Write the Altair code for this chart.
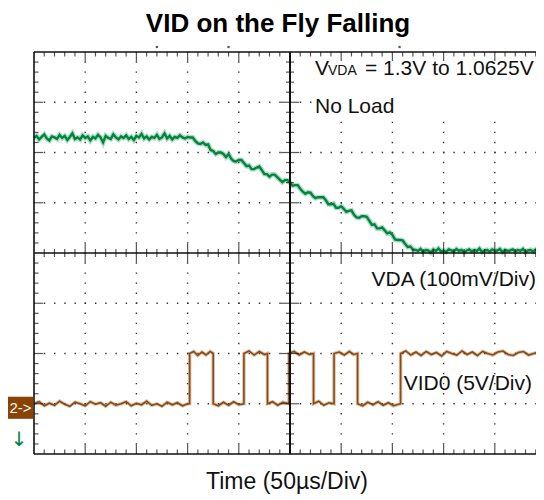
import altair as alt
import pandas as pd
import numpy as np

# ---------------- data ----------------
# VDA trace (green): sample times in µs (50 µs/div), values in divisions (100 mV/div)
vda_t = [i * 2.5 for i in range(201)]
vda_flat_start = [2.29, 2.33, 2.26, 2.31, 2.36, 2.28, 2.24, 2.32, 2.30, 2.27,
                  2.35, 2.29, 2.33, 2.25, 2.31, 2.38, 2.27, 2.30, 2.26, 2.34,
                  2.29, 2.32, 2.24, 2.31, 2.28, 2.35, 2.30, 2.20, 2.33, 2.29,
                  2.27, 2.36, 2.30, 2.26, 2.32, 2.29, 2.34, 2.27, 2.31, 2.25,
                  2.33, 2.30, 2.37, 2.28, 2.32, 2.26, 2.31, 2.29, 2.35, 2.27,
                  2.30, 2.38, 2.28, 2.33, 2.26, 2.31, 2.29, 2.34, 2.30, 2.28,
                  2.31]
vda_ramp = [2.30, 2.30, 2.23, 2.18, 2.17, 2.20, 2.15, 2.16, 2.05, 2.03,
            1.97, 2.00, 2.00, 1.97, 1.91, 1.97, 1.88, 1.83, 1.82, 1.85,
            1.85, 1.79, 1.73, 1.74, 1.67, 1.67, 1.70, 1.72, 1.65, 1.57,
            1.57, 1.52, 1.56, 1.56, 1.51, 1.46, 1.41, 1.45, 1.45, 1.40,
            1.34, 1.35, 1.35, 1.28, 1.22, 1.18, 1.21, 1.20, 1.13, 1.09,
            1.11, 1.11, 1.11, 1.05, 0.97, 0.97, 0.98, 0.90, 0.90, 0.93,
            0.88, 0.82, 0.84, 0.85, 0.76, 0.71, 0.70, 0.73, 0.73, 0.72,
            0.64, 0.56, 0.57, 0.49, 0.49, 0.51, 0.45, 0.39, 0.41, 0.36,
            0.27, 0.26, 0.26, 0.25, 0.18, 0.12, 0.13, 0.07, 0.06]
vda_flat_end = [0.04, 0.08, 0.02, 0.06, 0.05, 0.01, 0.07, 0.04, 0.09, 0.03,
                0.05, 0.02, 0.07, 0.05, 0.03, 0.08, 0.04, 0.06, 0.01, 0.05,
                0.07, 0.03, 0.06, 0.04, 0.09, 0.02, 0.05, 0.06, 0.03, 0.07,
                0.04, 0.05, 0.08, 0.02, 0.06, 0.04, 0.05, 0.07, 0.03, 0.06,
                0.04, 0.08, 0.02, 0.05, 0.06, 0.03, 0.07, 0.04, 0.05, 0.06,
                0.04]
vda_v = vda_flat_start + vda_ramp + vda_flat_end

# VID0 trace (brown), value in divisions (5 V/div)
vid_t = [0, 5, 10, 15, 20, 25, 30, 35, 40, 45, 50, 55, 60, 65, 70, 75, 80, 85, 90, 95, 100, 105, 110,
         115, 120, 125, 130, 135, 140, 145, 150, 152,
         152, 156, 160, 164, 168, 172, 175,
         175, 180, 185, 190, 195, 200, 205,
         205, 210, 215, 220, 225, 228,
         228, 233, 238, 243, 249,
         249, 254, 259, 264, 269, 273,
         273, 278, 283, 288, 293,
         293, 298, 303, 308, 312, 316,
         316, 321, 326, 331, 336, 341, 346, 351, 358,
         358, 363, 368, 373, 378, 383, 388, 393, 398, 403, 408, 413, 418, 423, 428, 433, 438, 443,
         448, 453, 458, 463, 468, 473, 478, 483, 488, 493, 498, 500]
vid_v = [-3.00, -2.96, -3.04, -2.99, -3.03, -2.95, -3.01, -3.05, -2.97, -3.00, -3.04, -2.96, -3.01,
         -2.98, -3.05, -2.97, -3.03, -3.00, -2.96, -3.04, -2.99, -3.02, -2.95, -3.03, -3.00, -3.05,
         -2.97, -3.02, -2.98, -3.04, -3.00, -3.00,
         -2.00, -1.96, -2.04, -1.97, -2.03, -1.96, -2.00,
         -3.00, -3.04, -2.97, -3.03, -2.96, -3.02, -3.00,
         -2.00, -1.95, -2.03, -1.96, -2.02, -2.00,
         -3.00, -2.96, -3.03, -2.97, -3.00,
         -2.00, -1.96, -2.03, -1.97, -2.02, -2.00,
         -3.00, -2.95, -3.03, -2.98, -3.00,
         -2.00, -1.97, -2.03, -1.96, -2.02, -2.00,
         -3.00, -3.04, -2.97, -3.02, -2.96, -3.03, -2.98, -3.04, -3.00,
         -2.00, -1.95, -2.03, -1.97, -2.04, -1.96, -2.02, -1.98, -2.05, -1.96, -2.00, -2.03, -1.95,
         -2.02, -1.97, -2.04, -1.96, -2.00, -2.03, -1.97, -1.95, -2.02, -2.04, -1.98, -1.96, -2.03,
         -2.00, -1.97, -2.02, -1.98]

marker_t = [120, 190, 357]   # small scope markers above the graticule

title_text = "VID on the Fly Falling"
xtitle_text = "Time  (50µs/Div)"

# ---------------- structure ----------------
FONT = "Liberation Sans"
GREEN = "#00853F"
BROWN = "#8C4A10"
INK = "#111111"

XMAX = 502 / 51.2 * 50   # visible part of the 10-division graticule
xs = alt.Scale(domain=[0, XMAX], nice=False, zero=False)
ys = alt.Scale(domain=[-4, 4], nice=False, zero=False)

green_df = pd.DataFrame({"t": vda_t, "v": vda_v, "i": range(len(vda_t))})
vid_df = pd.DataFrame({"t": vid_t, "v": vid_v, "i": range(len(vid_t))})

x_major = [t for t in range(50, 500, 50)]
x_minor = [t for t in range(10, 500, 10) if t % 50 != 0]
y_major = [-3, -2, -1, 1, 2, 3]
y_minor = [round(v, 1) for v in np.arange(-3.8, 3.81, 0.2) if abs(v - round(v)) > 1e-6]

one = pd.DataFrame({"a": [0]})

grid_v = alt.Chart(pd.DataFrame({"t": [t for t in x_major if t != 250]})).mark_rule(
    color="#333333", strokeWidth=1.4, strokeDash=[1.4, 8.65], strokeDashOffset=0.7
).encode(x=alt.X("t:Q", scale=xs))
grid_h = alt.Chart(pd.DataFrame({"v": y_major})).mark_rule(
    color="#333333", strokeWidth=1.4, strokeDash=[1.4, 8.84], strokeDashOffset=0.7
).encode(y=alt.Y("v:Q", scale=ys))

white_box = alt.Chart(one).mark_rect(color="white").encode(
    x=alt.value(278), x2=alt.value(502), y=alt.value(5), y2=alt.value(66)
)

green_halo = alt.Chart(green_df).mark_line(color=GREEN, strokeWidth=5, opacity=0.3).encode(
    x=alt.X("t:Q", scale=xs), y=alt.Y("v:Q", scale=ys), order="i:Q")
green_line = alt.Chart(green_df).mark_line(color=GREEN, strokeWidth=2.4).encode(
    x=alt.X("t:Q", scale=xs), y=alt.Y("v:Q", scale=ys), order="i:Q")
vid_halo = alt.Chart(vid_df).mark_line(color=BROWN, strokeWidth=3.5, opacity=0.35).encode(
    x=alt.X("t:Q", scale=xs), y=alt.Y("v:Q", scale=ys), order="i:Q")
vid_line = alt.Chart(vid_df).mark_line(color=BROWN, strokeWidth=1.6).encode(
    x=alt.X("t:Q", scale=xs), y=alt.Y("v:Q", scale=ys), order="i:Q")

# graticule frame (right edge lies outside the picture) and center axes
frame_l = alt.Chart(one).mark_rule(color=INK, strokeWidth=1.6).encode(x=alt.datum(0))
frame_t = alt.Chart(one).mark_rule(color=INK, strokeWidth=1.6).encode(y=alt.datum(4))
frame_b = alt.Chart(one).mark_rule(color=INK, strokeWidth=1.6).encode(y=alt.datum(-4))
center_v = alt.Chart(one).mark_rule(color=INK, strokeWidth=2).encode(x=alt.datum(250))
center_h = alt.Chart(one).mark_rule(color=INK, strokeWidth=1.5).encode(y=alt.datum(0))


def xtick(vals, yd, size, off):
    return alt.Chart(pd.DataFrame({"t": vals})).mark_tick(
        orient="vertical", size=size, thickness=1.2, color=INK, yOffset=off
    ).encode(x=alt.X("t:Q", scale=xs), y=alt.datum(yd))


def ytick(vals, xd, size, off):
    return alt.Chart(pd.DataFrame({"v": vals})).mark_tick(
        orient="horizontal", size=size, thickness=1.2, color=INK, xOffset=off
    ).encode(y=alt.Y("v:Q", scale=ys), x=alt.datum(xd))


ticks = [
    xtick(x_minor, 4, 4.5, 2.25), xtick(x_major, 4, 9, 4.5),
    xtick(x_minor, -4, 4.5, -2.25), xtick(x_major, -4, 9, -4.5),
    ytick(y_minor, 0, 4.5, 2.25), ytick(y_major, 0, 9, 4.5),
    xtick(x_minor, 0, 8, 0), xtick(x_major, 0, 18, 0),
    ytick(y_minor, 250, 8, 0), ytick(y_major, 250, 18, 0),
]

markers = alt.Chart(pd.DataFrame({"t": marker_t})).mark_square(size=5, color=INK).encode(
    x=alt.X("t:Q", scale=xs), y=alt.datum(4.1))


def txt(s, x, y, size=21, align="left", bold=False, color=INK):
    return alt.Chart(one).mark_text(
        text=s, align=align, baseline="alphabetic", fontSize=size, font=FONT,
        fontWeight="bold" if bold else "normal", color=color
    ).encode(x=alt.value(x), y=alt.value(y))


texts = [
    txt(title_text, 244, -20, size=26, align="center", bold=True, color="black"),
    txt("V", 281, 23),
    txt("VDA", 294, 23, size=14),
    txt("= 1.3V to 1.0625V", 331, 23),
    txt("No Load", 281, 61),
    txt("VDA (100mV/Div)", 502, 234, align="right"),
    txt("VID0 (5V/Div)", 498, 338, align="right"),
    txt(xtitle_text, 253, 437, size=23, align="center"),
]

box = alt.Chart(one).mark_rect(color="#8A4304").encode(
    x=alt.value(-26), x2=alt.value(-1), y=alt.datum(-2.86), y2=alt.datum(-3.30))
box_text = alt.Chart(pd.DataFrame({"v": [-3.08]})).mark_text(
    text="2->", color="white", fontSize=15, font=FONT, align="center", baseline="middle"
).encode(x=alt.value(-13.5), y=alt.Y("v:Q", scale=ys))
arrow = alt.Chart(pd.DataFrame({"v": [-3.72]})).mark_text(
    text="↓", color=GREEN, fontSize=20, font="DejaVu Sans", align="center", baseline="middle"
).encode(x=alt.value(-15), y=alt.Y("v:Q", scale=ys))

chart = alt.layer(
    grid_v, grid_h, white_box, green_halo, green_line, vid_halo, vid_line,
    frame_l, frame_t, frame_b, center_v, center_h, *ticks, markers, *texts, box, box_text, arrow
).properties(
    width=502, height=402,
    autosize=alt.AutoSizeParams(type="none"),
    padding={"left": 26, "top": 44, "right": 0, "bottom": 40},
    background="white",
).configure_view(
    stroke="transparent"
).configure_axis(disable=True)

chart.save("out.html", embed_options={"renderer": "svg", "actions": False})
